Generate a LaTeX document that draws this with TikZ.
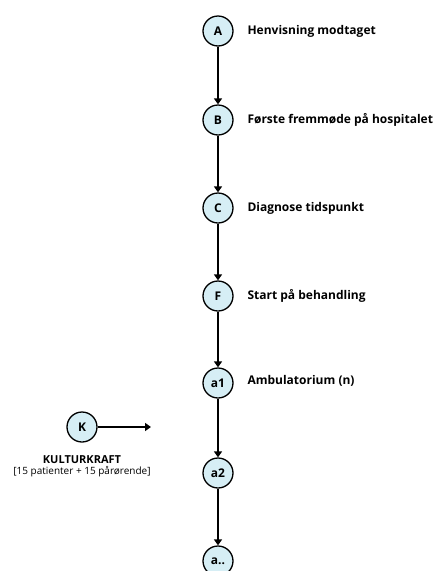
\documentclass[tikz,border=0pt]{standalone}
\usepackage{fontspec}
\setmainfont{Open Sans}
\usetikzlibrary{arrows.meta,positioning}
\definecolor{stagefill}{RGB}{214,238,245}
\tikzset{
  stage/.style={circle,draw,line width=1.3pt,fill=stagefill,minimum size=30pt,inner sep=0pt,font=\bfseries\fontsize{12}{13}\selectfont},
  stagelabel/.style={anchor=west,font=\bfseries\fontsize{12}{13}\selectfont},
  flow/.style={line width=1.5pt,-{Triangle[length=6pt,width=8pt]}}
}
\begin{document}
\begin{tikzpicture}[x=1pt,y=-1pt]
  \useasboundingbox (0,0) rectangle (439,571);
  %%%%% stages %%%%%
  \node[stage] (A) at (218,31) {A};
  \node[stage] (B) at (218,120) {B};
  \node[stage] (C) at (218,208) {C};
  \node[stage] (F) at (218,296) {F};
  \node[stage] (a1) at (218,383) {a1};
  \node[stage] (a2) at (218,473) {a2};
  \node[stage] (an) at (218,561) {a..};
  
  \node[stagelabel] (lA) at (244,31) {Henvisning modtaget};
  \node[stagelabel] (lB) at (244,120) {Første fremmøde på hospitalet};
  \node[stagelabel] (lC) at (244,208) {Diagnose tidspunkt};
  \node[stagelabel] (lF) at (244,296) {Start på behandling};
  \node[stagelabel] (la1) at (244,381) {Ambulatorium (n)};
  
  \draw[flow] (A) -- (B);
  \draw[flow] (B) -- (C);
  \draw[flow] (C) -- (F);
  \draw[flow] (F) -- (a1);
  \draw[flow] (a1) -- (a2);
  \draw[flow] (a2) -- (an);
  
  %%%%% kulturkraft %%%%%
  \node[stage] (K) at (82,427) {K};
  \coordinate (Kend) at (151,427);
  \draw[flow] (K) -- (Kend);
  \node[font=\bfseries\fontsize{11}{12}\selectfont] (lK) at (82,460) {KULTURKRAFT};
  \node[font=\fontsize{10}{11}\selectfont,below=-5pt of lK] (lK2) {[15 patienter + 15 pårørende]};
\end{tikzpicture}
\end{document}
